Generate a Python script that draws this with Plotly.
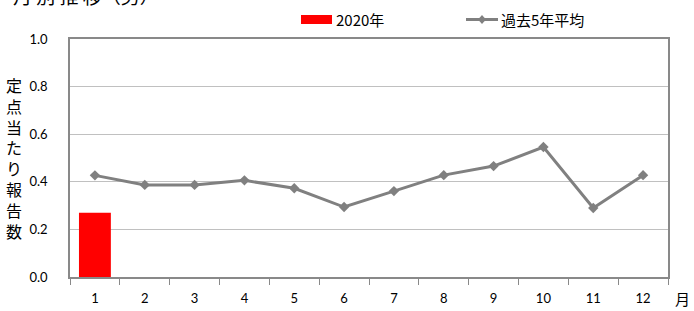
import plotly.graph_objects as go

months = [str(m) for m in range(1, 13)]
cases_2020 = [0.27]
avg_5yr = [0.427, 0.387, 0.387, 0.406, 0.373, 0.294, 0.361, 0.428, 0.466, 0.546, 0.29, 0.428]
y_ticks = [0.0, 0.2, 0.4, 0.6, 0.8, 1.0]
y_tick_labels = ["0.0", "0.2", "0.4", "0.6", "0.8", "1.0"]
legend_names = ["2020年", "過去5年平均"]

JP = "Noto Sans CJK JP"
NUM = "Lato, Noto Sans CJK JP"
LINE_GRAY = "#808080"

W, H = 694, 311
ML, MR, MT, MB = 70, 26, 39, 34
PW, PH = W - ML - MR, H - MT - MB


def px(x):
    return (x - ML) / PW


def py(y):
    return (H - MB - y) / PH


fig = go.Figure()
fig.add_trace(go.Bar(
    x=months[:len(cases_2020)], y=cases_2020, name=legend_names[0],
    marker=dict(color="#ff0000", line=dict(width=0)), width=0.64,
))
fig.add_trace(go.Scatter(
    x=months, y=avg_5yr, name=legend_names[1], mode="lines+markers",
    line=dict(color=LINE_GRAY, width=3),
    marker=dict(symbol="diamond", size=8, color=LINE_GRAY),
))

# legend keys (drawn in paper coordinates)
shapes = [
    dict(type="rect", xref="paper", yref="paper",
         x0=px(301), x1=px(332), y0=py(24), y1=py(15),
         fillcolor="#ff0000", line=dict(width=0)),
    dict(type="line", xref="paper", yref="paper",
         x0=px(466), x1=px(498), y0=py(19.5), y1=py(19.5),
         line=dict(color=LINE_GRAY, width=3)),
    dict(type="path", xref="paper", yref="paper",
         path="M {a},{b} L {c},{d} L {a},{e} L {f},{d} Z".format(
             a=px(482), b=py(15), c=px(486), d=py(19.5), e=py(24), f=px(478)),
         fillcolor=LINE_GRAY, line=dict(width=0)),
]

fig.update_layout(
    width=W, height=H,
    margin=dict(l=ML, r=MR, t=MT, b=MB),
    plot_bgcolor="white", paper_bgcolor="white",
    showlegend=False,
    shapes=shapes,
    xaxis=dict(
        type="category", categoryorder="array", categoryarray=months,
        range=[-0.5, 11.5], tickson="boundaries", ticks="outside", ticklen=6,
        tickcolor="#898989", showgrid=False, showline=True, linecolor="#898989",
        linewidth=1.5, mirror=True, ticklabelstandoff=9, automargin=False,
        tickfont=dict(family=NUM, size=13, color="black"),
    ),
    yaxis=dict(
        range=[0, 1.0], tickvals=y_ticks, ticktext=y_tick_labels,
        showgrid=True, gridcolor="#c0c0c0", gridwidth=1,
        showline=True, linecolor="#898989", linewidth=1.5, mirror=True,
        ticks="", ticklabelstandoff=18, zeroline=False, automargin=False,
        tickfont=dict(family=NUM, size=13, color="black"),
    ),
    annotations=[
        dict(text="月 別 推 移（男）", xref="paper", yref="paper", x=px(11), y=py(-4.5),
             xanchor="left", yanchor="middle", showarrow=False,
             font=dict(family=JP, size=19, color="black")),
        dict(text=legend_names[0], xref="paper", yref="paper", x=px(334), y=py(19.5),
             xanchor="left", yanchor="middle", showarrow=False,
             font=dict(family=JP, size=15, color="black")),
        dict(text=legend_names[1], xref="paper", yref="paper", x=px(499), y=py(19.5),
             xanchor="left", yanchor="middle", showarrow=False,
             font=dict(family=JP, size=15, color="black")),
        dict(text="定<br>点<br>当<br>た<br>り<br>報<br>告<br>数", xref="paper", yref="paper",
             x=px(14), y=py(157.5), xanchor="center", yanchor="middle", showarrow=False,
             font=dict(family=JP, size=16, color="black")),
        dict(text="月", xref="paper", yref="paper", x=px(682), y=py(298),
             xanchor="center", yanchor="middle", showarrow=False,
             font=dict(family=JP, size=15, color="black")),
    ],
)

fig.write_html(
    "out.html",
    config={"displayModeBar": False},
    post_script="document.body.style.margin='0';document.body.style.overflow='hidden';",
)
